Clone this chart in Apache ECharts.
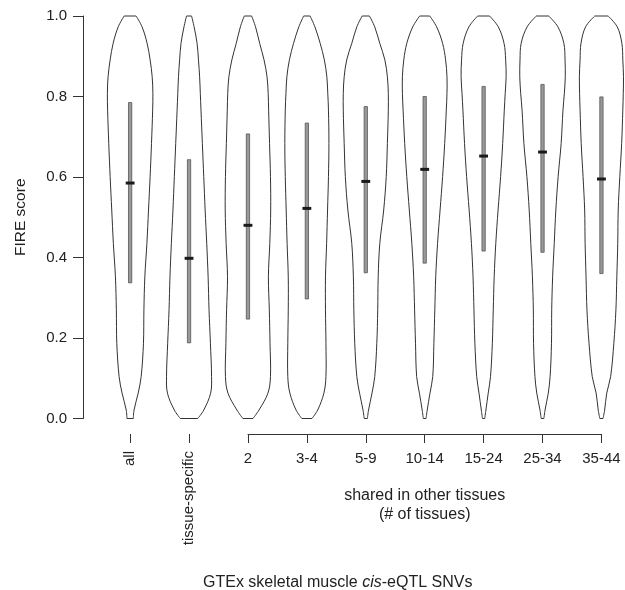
<!DOCTYPE html>
<html>
<head>
<meta charset="utf-8">
<script src="https://cdn.jsdelivr.net/npm/echarts@6/dist/echarts.min.js"></script>
<style>
html, body { margin: 0; padding: 0; background: #fff; }
#chart { width: 625px; height: 590px; }
</style>
</head>
<body>
<div id="chart"></div>
<script>
// categories (x positions 1..9)
var categories = ['all', 'tissue-specific', '2', '3-4', '5-9', '10-14', '15-24', '25-34', '35-44'];
var singleLabels = categories.slice(0, 2);
var sharedLabels = categories.slice(2);

// box: quartiles and medians
var q1      = [0.337, 0.188, 0.247, 0.297, 0.362, 0.386, 0.416, 0.413, 0.360];
var medians = [0.585, 0.398, 0.480, 0.522, 0.589, 0.619, 0.652, 0.662, 0.595];
var q3      = [0.785, 0.643, 0.707, 0.734, 0.775, 0.800, 0.825, 0.830, 0.799];

// violin outline: relative density at these score levels
var levels = [1.0, 0.973, 0.932, 0.891, 0.849, 0.808, 0.766, 0.683, 0.601, 0.518, 0.435, 0.352, 0.270, 0.187, 0.104, 0.063, 0.021, 0];
var densAll    = [0.26, 0.52, 0.74, 0.87, 0.96, 0.99, 0.98, 0.93, 0.87, 0.80, 0.73, 0.64, 0.60, 0.58, 0.48, 0.35, 0.17, 0.14];
var densTissue = [0.11, 0.22, 0.35, 0.41, 0.46, 0.49, 0.52, 0.58, 0.64, 0.70, 0.77, 0.83, 0.87, 0.93, 0.98, 0.94, 0.64, 0.38];
var dens2      = [0.16, 0.33, 0.51, 0.70, 0.83, 0.88, 0.90, 0.94, 0.98, 0.99, 0.95, 0.89, 0.93, 0.96, 0.98, 0.87, 0.48, 0.22];
var dens3_4    = [0.14, 0.35, 0.58, 0.76, 0.87, 0.91, 0.94, 0.96, 0.94, 0.90, 0.86, 0.81, 0.81, 0.83, 0.83, 0.74, 0.47, 0.22];
var dens5_9    = [0.16, 0.39, 0.61, 0.83, 0.94, 0.98, 0.98, 0.94, 0.89, 0.78, 0.61, 0.54, 0.52, 0.48, 0.39, 0.27, 0.12, 0.07];
var dens10_14  = [0.22, 0.52, 0.78, 0.91, 0.97, 0.97, 0.94, 0.87, 0.78, 0.67, 0.56, 0.48, 0.44, 0.40, 0.35, 0.23, 0.11, 0.06];
var dens15_24  = [0.26, 0.64, 0.89, 0.96, 0.98, 0.94, 0.90, 0.83, 0.74, 0.63, 0.53, 0.46, 0.42, 0.38, 0.30, 0.20, 0.10, 0.05];
var dens25_34  = [0.27, 0.67, 0.93, 0.98, 0.99, 0.95, 0.89, 0.81, 0.68, 0.58, 0.51, 0.44, 0.40, 0.39, 0.33, 0.25, 0.11, 0.06];
var dens35_44  = [0.29, 0.69, 0.89, 0.93, 0.96, 0.95, 0.93, 0.88, 0.80, 0.73, 0.71, 0.67, 0.63, 0.54, 0.40, 0.23, 0.14, 0.07];
var densities = [densAll, densTissue, dens2, dens3_4, dens5_9, dens10_14, dens15_24, dens25_34, dens35_44];

var FONT = '"Liberation Sans", Arial, Helvetica, sans-serif';
var TXT = '#222';
var LINE = '#333';

var halfWidth = 0.39;   // x units for density 1
var boxHalf = 0.028;
var medHalf = 0.075;

function renderViolin(params, api) {
    var i = params.dataIndex;
    var x = i + 1;
    var d = densities[i];
    var left = [], right = [];
    for (var k = 0; k < levels.length; k++) {
        left.push(api.coord([x - d[k] * halfWidth, levels[k]]));
        right.push(api.coord([x + d[k] * halfWidth, levels[k]]));
    }
    var last = levels.length - 1;
    var lineStyle = { stroke: LINE, lineWidth: 1, fill: null };
    var b1 = api.coord([x - boxHalf, q3[i]]);
    var b2 = api.coord([x + boxHalf, q1[i]]);
    var m1 = api.coord([x - medHalf, medians[i]]);
    var m2 = api.coord([x + medHalf, medians[i]]);
    return {
        type: 'group',
        children: [
            { type: 'polyline', shape: { points: left, smooth: 0.35 }, style: lineStyle },
            { type: 'polyline', shape: { points: right, smooth: 0.35 }, style: lineStyle },
            { type: 'line', shape: { x1: left[0][0], y1: left[0][1], x2: right[0][0], y2: right[0][1] }, style: lineStyle },
            { type: 'line', shape: { x1: left[last][0], y1: left[last][1], x2: right[last][0], y2: right[last][1] }, style: lineStyle },
            { type: 'rect', shape: { x: b1[0], y: b1[1], width: b2[0] - b1[0], height: b2[1] - b1[1] },
              style: { fill: '#999', stroke: '#555', lineWidth: 0.8 } },
            { type: 'line', shape: { x1: m1[0], y1: m1[1], x2: m2[0], y2: m2[1] },
              style: { stroke: '#1a1a1a', lineWidth: 3 } }
        ]
    };
}

var chart = echarts.init(document.getElementById('chart'));
var option = {
    animation: false,
    backgroundColor: '#fff',
    textStyle: { fontFamily: FONT, color: TXT },
    title: {
        left: 198, top: 570,
        text: '{n|GTEx skeletal muscle }{i|cis}{n|-eQTL SNVs}',
        textStyle: {
            rich: {
                n: { fontFamily: FONT, fontSize: 16, color: TXT, fontWeight: 'normal' },
                i: { fontFamily: FONT, fontSize: 16, color: TXT, fontStyle: 'italic', fontWeight: 'normal' }
            }
        }
    },
    grid: [
        { left: 83, top: 16, width: 542, height: 402.5 },
        { left: 248, top: 433, width: 353.4, height: 1 },
        { left: 130.1, top: 433, width: 58.9, height: 1 }
    ],
    xAxis: [
        { gridIndex: 0, type: 'value', min: 0.2, max: 9.4, show: false },
        {
            gridIndex: 1, type: 'category', data: sharedLabels, boundaryGap: false,
            axisLine: { show: true, lineStyle: { color: LINE, width: 1 } },
            axisTick: { show: true, length: 9, alignWithLabel: true, lineStyle: { color: LINE } },
            axisLabel: { interval: 0, margin: 17, fontSize: 15, color: TXT, fontFamily: FONT },
            name: 'shared in other tissues\n(# of tissues)',
            nameLocation: 'middle', nameGap: 52,
            nameTextStyle: { fontSize: 16, color: TXT, fontFamily: FONT, lineHeight: 19 }
        },
        {
            gridIndex: 2, type: 'category', data: singleLabels, boundaryGap: false,
            axisLine: { show: false },
            axisTick: { show: true, length: 9, lineStyle: { color: LINE } },
            axisLabel: { interval: 0, rotate: 90, margin: 17, fontSize: 15, color: TXT, fontFamily: FONT }
        }
    ],
    yAxis: [
        {
            gridIndex: 0, type: 'value', min: 0, max: 1, interval: 0.2,
            axisLine: { show: true, lineStyle: { color: LINE, width: 1 } },
            axisTick: { show: true, length: 10, lineStyle: { color: LINE } },
            axisLabel: { margin: 16, fontSize: 15, color: TXT, fontFamily: FONT,
                         formatter: function (v) { return v.toFixed(1); } },
            splitLine: { show: false },
            name: 'FIRE score', nameLocation: 'middle', nameGap: 54, nameRotate: 90,
            nameTextStyle: { fontSize: 15.5, color: TXT, fontFamily: FONT }
        },
        { gridIndex: 1, type: 'value', show: false },
        { gridIndex: 2, type: 'value', show: false }
    ],
    series: [{
        type: 'custom',
        xAxisIndex: 0, yAxisIndex: 0,
        renderItem: renderViolin,
        data: categories.map(function (c, i) { return [i + 1, medians[i]]; }),
        silent: true
    }]
};
chart.setOption(option);
</script>
</body>
</html>
